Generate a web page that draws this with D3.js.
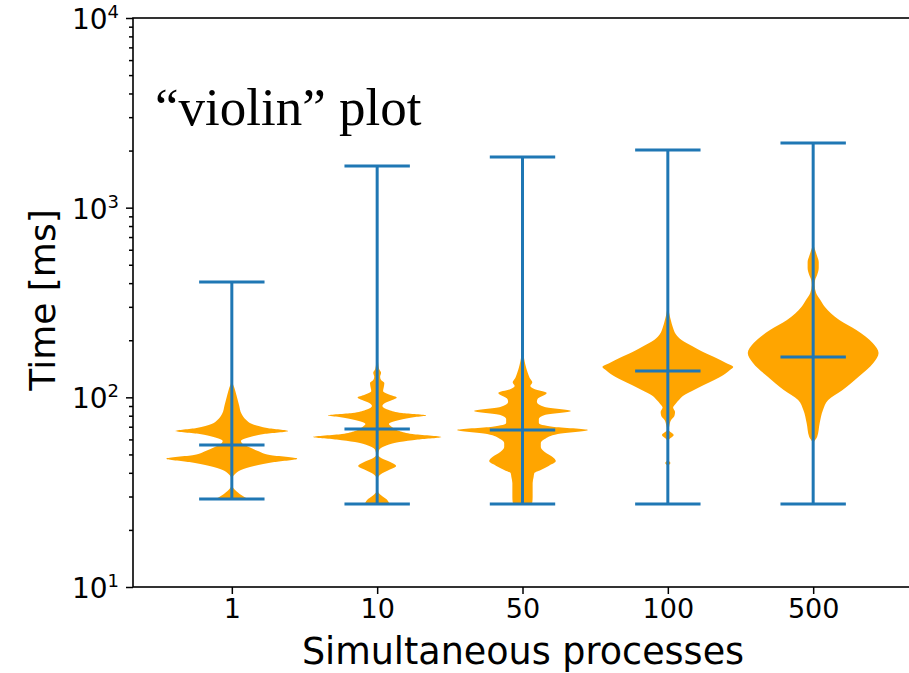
<!DOCTYPE html>
<html>
<head>
<meta charset="utf-8">
<script src="https://cdn.jsdelivr.net/npm/d3@7"></script>
<style>
  html, body { margin: 0; padding: 0; background: #ffffff; }
  svg { display: block; }
</style>
</head>
<body>
<svg id="chart" width="909" height="673"></svg>
<script>
// Response times per number of simultaneous processes
const categories = ["1", "10", "50", "100", "500"];
const minTimes = [29.1, 27.4, 27.4, 27.4, 27.4];
const maxTimes = [405, 1657, 1848, 2012, 2190];
const medianTimes = [56.1, 68.1, 67.3, 137.7, 163];

// Density profiles: [time in ms, relative density]
const density1 = [
  [29.1, 0.25], [30.5, 0.15], [32.5, 0.05], [34.1, 0.01], [37.5, 0.01], [39.4, 0.05],
  [41.4, 0.14], [43.5, 0.34], [45.6, 0.65], [47.5, 1.0], [49.6, 0.58], [52.1, 0.40],
  [54.7, 0.26], [56.8, 0.17], [58.9, 0.14], [61.8, 0.28], [64.1, 0.49], [66.5, 0.86],
  [69.0, 0.54], [72.3, 0.31], [75.9, 0.22], [81.6, 0.15], [91.1, 0.11], [102.8, 0.07],
  [111.9, 0.04], [119.0, 0.015], [200, 0.004], [405, 0.002]
];
const density2 = [
  [27.4, 0.19], [29.1, 0.14], [30.5, 0.06], [31.7, 0.015], [34.5, 0.008], [37.5, 0.012],
  [39.4, 0.06], [41.4, 0.18], [43.5, 0.29], [45.6, 0.20], [47.9, 0.06], [49.6, 0.015],
  [52.8, 0.03], [55.4, 0.12], [58.1, 0.34], [59.9, 0.62], [61.8, 0.98], [64.1, 0.54],
  [66.5, 0.34], [70.0, 0.22], [72.3, 0.18], [75.9, 0.34], [78.7, 0.58], [80.2, 0.75],
  [82.6, 0.38], [85.7, 0.18], [90.0, 0.08], [93.3, 0.12], [96.8, 0.23], [99.8, 0.30],
  [102.8, 0.20], [107.9, 0.09], [112.6, 0.10], [119.0, 0.11], [123.4, 0.06], [128.4, 0.045],
  [134.7, 0.06], [141.0, 0.03], [151.7, 0.015], [167, 0.005], [1657, 0.002]
];
const density3 = [
  [27.4, 0.12], [27.9, 0.15], [29.7, 0.155], [32.5, 0.155], [35.3, 0.155], [38.0, 0.17],
  [39.8, 0.18], [41.4, 0.28], [43.5, 0.40], [46.1, 0.51], [48.5, 0.46], [51.5, 0.34],
  [54.7, 0.28], [57.4, 0.28], [60.3, 0.34], [64.1, 0.54], [67.3, 1.0], [70.0, 0.46],
  [73.3, 0.25], [76.8, 0.25], [80.7, 0.34], [84.7, 0.74], [89.0, 0.34], [94.5, 0.22],
  [98.0, 0.23], [105.4, 0.37], [110.6, 0.18], [114.6, 0.12], [120.0, 0.15], [126.4, 0.11],
  [134.7, 0.08], [148.0, 0.045], [161, 0.023], [177.6, 0.008], [1848, 0.002]
];
const density4 = [
  [27.4, 0.0], [41.4, 0.002], [43.5, 0.008], [45.0, 0.04], [46.7, 0.008], [56.1, 0.005],
  [59.6, 0.015], [63.3, 0.09], [67.3, 0.015], [71.5, 0.025], [75.9, 0.05], [79.7, 0.10],
  [83.7, 0.11], [88.3, 0.08], [92.6, 0.12], [96.8, 0.17], [101.6, 0.23], [109.3, 0.40],
  [116.1, 0.55], [123.4, 0.71], [131.1, 0.85], [139.3, 0.95], [144.4, 1.0], [151.7, 0.89],
  [161.4, 0.74], [173.3, 0.54], [186.5, 0.37], [200.5, 0.21], [215.8, 0.12], [231.9, 0.08],
  [255.6, 0.045], [275, 0.023], [306.6, 0.005], [2012, 0.002]
];
const density5 = [
  [27.4, 0.0], [50, 0.002], [57.4, 0.008], [61.8, 0.06], [73.2, 0.10], [85.7, 0.15],
  [96.8, 0.23], [109.3, 0.45], [127.9, 0.69], [151.7, 0.92], [171.2, 1.0], [193.2, 0.91],
  [226.4, 0.66], [255.6, 0.40], [299.2, 0.18], [325.8, 0.11], [354.7, 0.045], [390.9, 0.023],
  [415.3, 0.03], [441.2, 0.06], [480.4, 0.085], [516.8, 0.085], [555.9, 0.06], [597.7, 0.03],
  [642, 0.008], [800, 0.002], [2190, 0.002]
];
const densities = [density1, density2, density3, density4, density5];

const yTickValues = [10, 100, 1000, 10000];
const yTickExponents = ["1", "2", "3", "4"];

const violinColor = "#ffa500";
const lineColor = "#1f77b4";

const svg = d3.select("#chart");
const plotLeft = 133, plotRight = 912, plotTop = 18, plotBottom = 587;

const x = d3.scaleLinear().domain([0.32, 5.68]).range([plotLeft, plotRight]);
const y = d3.scaleLog().domain([10, 10000]).range([plotBottom, plotTop]);
const positions = categories.map((c, i) => i + 1);
const violinWidth = 0.9;
const w = d3.scaleLinear().domain([0, 1]).range([0, x(1 + violinWidth / 2) - x(1)]);
const capHalf = x(1 + violinWidth / 4) - x(1);

// Violin bodies
densities.forEach((prof, i) => {
  const cx = x(positions[i]);
  const pts = prof.slice().sort((a, b) => b[0] - a[0]);
  const area = d3.area()
    .y(d => y(d[0]))
    .x0(d => cx - w(d[1]))
    .x1(d => cx + w(d[1]))
    .curve(d3.curveMonotoneY);
  svg.append("path")
    .attr("d", area(pts))
    .attr("fill", violinColor)
    .attr("stroke", "none");
});

// Extrema bars and medians
const lines = svg.append("g")
  .attr("stroke", lineColor)
  .attr("stroke-width", 3);
positions.forEach((p, i) => {
  const cx = x(p);
  lines.append("line").attr("x1", cx).attr("x2", cx)
    .attr("y1", y(minTimes[i])).attr("y2", y(maxTimes[i]));
  [minTimes[i], maxTimes[i], medianTimes[i]].forEach(v => {
    lines.append("line").attr("x1", cx - capHalf).attr("x2", cx + capHalf)
      .attr("y1", y(v)).attr("y2", y(v));
  });
});

// Frame
svg.append("rect")
  .attr("x", plotLeft).attr("y", plotTop)
  .attr("width", plotRight - plotLeft).attr("height", plotBottom - plotTop)
  .attr("fill", "none").attr("stroke", "#000").attr("stroke-width", 1.6);

// Y axis ticks
const minorTicks = [];
[10, 100, 1000].forEach(d => { for (let k = 2; k <= 9; k++) minorTicks.push(d * k); });
const yMinor = svg.append("g").attr("transform", `translate(${plotLeft},0)`)
  .call(d3.axisLeft(y).tickValues(minorTicks).tickSize(4).tickFormat(""));
yMinor.select(".domain").remove();
const yMajor = svg.append("g").attr("transform", `translate(${plotLeft},0)`)
  .call(d3.axisLeft(y).tickValues(yTickValues).tickSize(7).tickFormat(""));
yMajor.select(".domain").remove();
svg.selectAll(".tick line").attr("stroke", "#000").attr("stroke-width", 1.5);

const yLabels = svg.append("g")
  .attr("font-family", "DejaVu Sans, sans-serif")
  .attr("fill", "#000");
yTickValues.forEach((v, i) => {
  const t = yLabels.append("text")
    .attr("x", 119).attr("y", y(v) + 11)
    .attr("text-anchor", "end")
    .attr("font-size", 28);
  t.append("tspan").text("10");
  t.append("tspan").attr("dy", -11).attr("font-size", 18).text(yTickExponents[i]);
});

// X axis ticks
const xAxisG = svg.append("g").attr("transform", `translate(0,${plotBottom})`)
  .call(d3.axisBottom(x).tickValues(positions).tickSize(7).tickFormat((d, i) => categories[i]));
xAxisG.select(".domain").remove();
xAxisG.selectAll(".tick line").attr("stroke", "#000").attr("stroke-width", 1.5);
xAxisG.selectAll(".tick text")
  .attr("font-family", "DejaVu Sans, sans-serif")
  .attr("font-size", 27)
  .attr("fill", "#000")
  .attr("y", 12)
  .attr("dy", "0.71em");

// Axis titles
svg.append("text")
  .attr("x", 523).attr("y", 664)
  .attr("text-anchor", "middle")
  .attr("font-family", "DejaVu Sans, sans-serif")
  .attr("font-size", 36.5)
  .attr("fill", "#000")
  .text("Simultaneous processes");

svg.append("text")
  .attr("transform", "translate(55,300) rotate(-90)")
  .attr("text-anchor", "middle")
  .attr("font-family", "DejaVu Sans, sans-serif")
  .attr("font-size", 36)
  .attr("fill", "#000")
  .text("Time [ms]");

// Annotation
svg.append("text")
  .attr("x", 155).attr("y", 125)
  .attr("font-family", "Liberation Serif, Times New Roman, serif")
  .attr("font-size", 53)
  .attr("fill", "#000")
  .text("\u201Cviolin\u201D plot");
</script>
</body>
</html>
